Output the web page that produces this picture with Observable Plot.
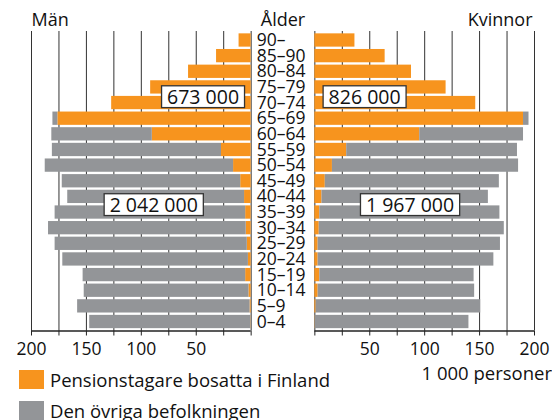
<!DOCTYPE html>
<html><head><meta charset="utf-8">
<script src="https://cdn.jsdelivr.net/npm/d3@7"></script>
<script src="https://cdn.jsdelivr.net/npm/@observablehq/plot@0.6"></script>
<style>
body{margin:0;background:#fff;font-family:"Open Sans",sans-serif;color:#111;}
#wrap{position:relative;width:552px;height:420px;overflow:hidden;background:#fff;}
#chart{position:absolute;left:0;top:0;}
#legend{position:absolute;left:19px;top:367px;}
#unit{position:absolute;right:0;top:363.6px;font-size:18.5px;line-height:1;white-space:nowrap;}
.leg-swatches{margin:0 !important;}
.leg-swatch{padding-bottom:5.8px !important;}
.leg-swatch > svg{margin-right:6px !important;}
</style></head><body>
<div id="wrap"><div id="chart"></div><div id="legend"></div><div id="unit">1 000 personer</div></div>
<script>
// Age groups, top to bottom
const ages = ["90–","85–90","80–84","75–79","70–74","65–69","60–64","55–59","50–54","45–49","40–44","35–39","30–34","25–29","20–24","15–19","10–14","5–9","0–4"];
// thousands of persons
const menPension   = [11, 31.5, 57, 91.5, 127, 176, 90, 27, 16, 9.5, 6, 5, 4.5, 3.5, 2.5, 5, 2, 1, 0.3];
const menOther     = [0, 0, 0, 0, 0, 4.5, 91.5, 154, 171.5, 162.5, 161, 173.5, 180, 175, 169, 148, 150, 157, 146.7];
const womenPension = [36.5, 64, 88, 119.5, 146.5, 190, 95.5, 29, 16, 9.5, 6.5, 4.5, 4, 3, 3, 4.5, 3, 1.2, 0.3];
const womenOther   = [0, 0, 0, 0, 0, 5, 94.5, 155.5, 169.5, 158.5, 151.5, 164, 168.5, 166, 160, 140.5, 142.5, 149.8, 140];
const groups = ["Pensionstagare bosatta i Finland", "Den övriga befolkningen"];
const colors = ["#f7941e", "#939598"];
const totalLabels = ["673 000", "826 000", "2 042 000", "1 967 000"]; // men pension, women pension, men other, women other
const headers = ["Män", "Ålder", "Kvinnor"];
const tickValues = [0, 25, 50, 75, 100, 125, 150, 175, 200];
const tickLabels = [50, 100, 150, 200];

const G = 29; // half of the centre gap, in scale units
const rows = [];
ages.forEach((a, i) => {
  const mp = menPension[i], mo = menOther[i], wp = womenPension[i], wo = womenOther[i];
  if (mp > 0) rows.push({age: a, group: groups[0], x1: -G, x2: -(G + mp)});
  if (mo > 0) rows.push({age: a, group: groups[1], x1: -(G + mp), x2: -(G + mp + mo)});
  if (wp > 0) rows.push({age: a, group: groups[0], x1: G, x2: G + wp});
  if (wo > 0) rows.push({age: a, group: groups[1], x1: G + wp, x2: G + wp + wo});
});
const gridX = [...tickValues.map(v => -(G + v)), ...tickValues.map(v => G + v)];

const H = 362, mT = 31, mB = 31.5, pad = 0.15;
const step = (H - mT - mB) / (ages.length + pad);
const last = ages[ages.length - 1];

const plot = Plot.plot({
  width: 552, height: H,
  marginLeft: 31, marginRight: 18, marginTop: mT, marginBottom: mB,
  style: {fontFamily: '"Open Sans", sans-serif', fontSize: "17.5px", background: "#fff", color: "#111", overflow: "visible"},
  x: {domain: [-(G + 200), G + 200], label: null},
  y: {type: "band", domain: ages, padding: pad, round: false, axis: null, label: null},
  color: {domain: groups, range: colors},
  marks: [
    Plot.ruleX(gridX, {stroke: "#333", strokeWidth: 1}),
    Plot.barX(rows, {y: "age", x1: "x1", x2: "x2", fill: "group"}),
    Plot.ruleY([last], {x1: -(G + 200), x2: -G, dy: step * (1 + pad) / 2, stroke: "#222", strokeWidth: 1.3}),
    Plot.ruleY([last], {x1: G, x2: G + 200, dy: step * (1 + pad) / 2, stroke: "#222", strokeWidth: 1.3}),
    Plot.axisX({
      ticks: gridX, tickSize: 5, tickPadding: 7, label: null, stroke: "#222",
      tickFormat: d => { const v = Math.abs(d) - G; return tickLabels.includes(v) ? String(v) : ""; }
    }),
    Plot.text(ages, {y: d => d, x: () => -G, dx: 5.5, textAnchor: "start", fill: "#111"}),
    Plot.text([headers[0]], {frameAnchor: "top-left", textAnchor: "start", lineAnchor: "bottom", dy: -6, fill: "#111", fontSize: 18}),
    Plot.text([headers[1]], {x: () => 0, frameAnchor: "top", textAnchor: "middle", lineAnchor: "bottom", dy: -6, fill: "#111", fontSize: 18}),
    Plot.text([headers[2]], {frameAnchor: "top-right", textAnchor: "end", lineAnchor: "bottom", dy: -6, dx: -2, fill: "#111", fontSize: 18}),
    Plot.text([totalLabels[0]], {x: () => -(G + 43.8), y: () => "70–74", dy: -5.7, fontSize: 19.5, fill: "#111"}),
    Plot.text([totalLabels[1]], {x: () => G + 45.3, y: () => "70–74", dy: -5.7, fontSize: 19.5, fill: "#111"}),
    Plot.text([totalLabels[2]], {x: () => -(G + 88.7), y: () => "40–44", dy: 8.4, fontSize: 19.5, fill: "#111"}),
    Plot.text([totalLabels[3]], {x: () => G + 86.7, y: () => "40–44", dy: 8.4, fontSize: 19.5, fill: "#111"})
  ]
});
document.getElementById("chart").appendChild(plot);

// white framed boxes behind the total labels
plot.querySelectorAll("text").forEach(t => {
  if (!totalLabels.includes(t.textContent)) return;
  const bb = t.getBBox();
  const r = document.createElementNS("http://www.w3.org/2000/svg", "rect");
  const cy = bb.y + bb.height / 2 + 0.6;
  r.setAttribute("x", bb.x - 5.5);
  r.setAttribute("y", cy - 10.9);
  r.setAttribute("width", bb.width + 11);
  r.setAttribute("height", 21.8);
  r.setAttribute("fill", "#fff");
  r.setAttribute("stroke", "#333");
  r.setAttribute("stroke-width", 1.3);
  if (t.getAttribute("transform")) r.setAttribute("transform", t.getAttribute("transform"));
  t.parentNode.insertBefore(r, t);
});

const legend = Plot.legend({
  color: {domain: groups, range: colors},
  legend: "swatches", columns: 1, swatchWidth: 25, swatchHeight: 19,
  className: "leg",
  style: {fontFamily: '"Open Sans", sans-serif', fontSize: "18.5px", color: "#111"}
});
document.getElementById("legend").appendChild(legend);
</script>
</body></html>
